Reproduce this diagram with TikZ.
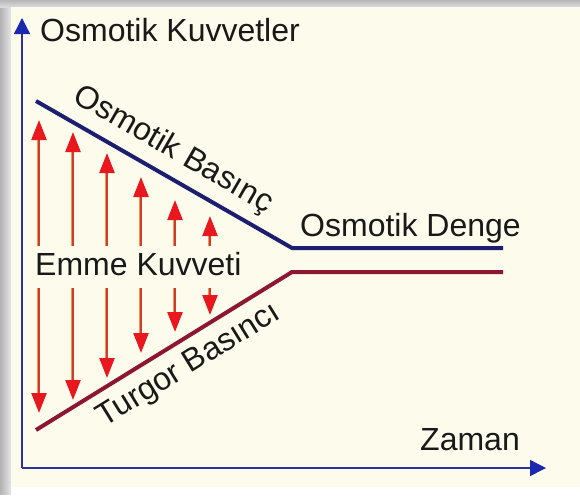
\documentclass[tikz,border=0pt]{standalone}
\usepackage{fontspec}
\setmainfont{Liberation Sans}
\usetikzlibrary{arrows.meta}
\definecolor{cream}{HTML}{FDFBEC}
\definecolor{navy}{RGB}{28,30,112}
\definecolor{maroon}{RGB}{140,22,52}
\definecolor{axisblue}{RGB}{45,50,150}
\definecolor{axishead}{RGB}{25,40,175}
\definecolor{arrred}{RGB}{232,24,30}
\definecolor{shaftred}{RGB}{205,60,50}
\definecolor{shaftorange}{RGB}{245,150,70}
\tikzset{
  lbl/.style={font=\fontsize{32}{32}\selectfont, inner sep=0pt, text=black!90},
  axisline/.style={axisblue, line width=1.4pt, -{Triangle[length=16pt,width=16pt,color=axishead]}},
  curveblue/.style={navy, line width=4pt, line join=round},
  curvered/.style={maroon, line width=4pt, line join=round},
  redarrow/.style={shaftred, line width=2.4pt, -{Triangle[length=20pt,width=15pt,color=arrred]}},
}
\begin{document}
\begin{tikzpicture}[x=1pt,y=-1pt]
\useasboundingbox (0,0) rectangle (580,498);
% frame
\fill[white] (0,0) rectangle (580,498);
\shade[left color=black!30, right color=black!10] (0,0) rectangle (11,494);
\shade[top color=black!28, bottom color=black!14] (0,0) rectangle (580,7);
\fill[cream] (11,7) rectangle (580,487);
% axes
\coordinate (O) at (22,468);
\coordinate (ytop) at (22,18);
\coordinate (xend) at (546,468);
\draw[axisline] (O) -- (ytop);
\draw[axisline] (O) -- (xend);
% curves
\coordinate (bs) at (36,101);
\coordinate (bk) at (292,248);
\coordinate (be) at (503,248);
\coordinate (rs) at (36,430);
\coordinate (rk) at (292,272);
\coordinate (re) at (503,272);
\draw[curveblue] (bs) -- (bk) -- (be);
\draw[curvered] (rs) -- (rk) -- (re);
% up arrows
\foreach \n/\x/\t in {1/39/120, 2/73/132, 3/107/153, 4/141/177, 5/175/200, 6/210/216}{
  \coordinate (ua\n) at (\x,246);
  \coordinate (ut\n) at (\x,\t);
  \draw[shaftorange, line width=1.2pt] ([xshift=-1.3pt]ua\n) -- ([xshift=-1.3pt,yshift=-18pt]ut\n);
  \draw[redarrow] (ua\n) -- (ut\n);
}
% down arrows
\foreach \n/\x/\t in {1/39/413, 2/73/400, 3/107/378, 4/141/353, 5/175/332, 6/210/315}{
  \coordinate (da\n) at (\x,288);
  \coordinate (dt\n) at (\x,\t);
  \draw[shaftorange, line width=1.2pt] ([xshift=-1.3pt]da\n) -- ([xshift=-1.3pt,yshift=18pt]dt\n);
  \draw[redarrow] (da\n) -- (dt\n);
}
% labels
\node[lbl, anchor=west] (ok) at (40,30) {Osmotik Kuvvetler};
\node[lbl, rotate=-30] (obas) at (173,150) {Osmotik Basınç};
\node[lbl, anchor=west] (od) at (300,228) {Osmotik Denge};
\node[lbl, anchor=west] (ek) at (35,264) {Emme Kuvveti};
\node[lbl, rotate=31.7] (tb) at (189,366) {Turgor Basıncı};
\node[lbl, anchor=east] (zm) at (520,440) {Zaman};
\end{tikzpicture}
\end{document}
